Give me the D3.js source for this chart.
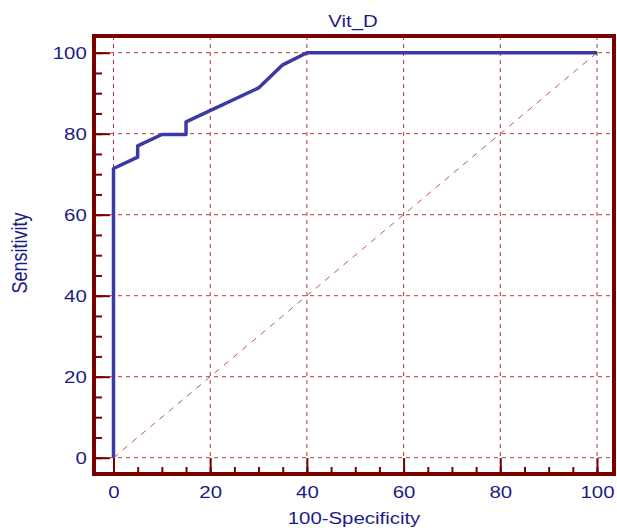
<!DOCTYPE html>
<html>
<head>
<meta charset="utf-8">
<script src="https://cdn.jsdelivr.net/npm/d3@7"></script>
<style>
  body { margin: 0; background: #fff; }
  text { font-family: Arial, "Liberation Sans", sans-serif; }
</style>
</head>
<body>
<div id="chart"></div>
<script>
// ROC curve points (100-Specificity, Sensitivity)
var fpr = [0, 0, 5, 5, 10, 15, 15, 30, 35, 40, 100];
var sens = [0, 71.4, 74.2, 77.0, 79.8, 79.8, 82.9, 91.3, 97.0, 100, 100];

var majorTicks = [0, 20, 40, 60, 80, 100];
var minorTicks = d3.range(0, 101, 5);

var title = 'Vit_D';
var xTitle = '100-Specificity';
var yTitle = 'Sensitivity';

var W = 617, H = 528;
var frame = { left: 94, right: 614, top: 36, bottom: 474 };
var stretch = 1.2; // the original text looks widened horizontally

var navy = '#1c1c88', maroon = '#7a0000', gridCol = '#b03a3a', lineCol = '#3a3aa2';

var svg = d3.select('#chart')
  .append('svg')
  .attr('width', W)
  .attr('height', H);

var x = d3.scaleLinear().domain([0, 100]).range([113.5, 597]);
var y = d3.scaleLinear().domain([0, 100]).range([457.7, 52.7]);

// grid lines
svg.append('g')
  .selectAll('line')
  .data(majorTicks)
  .enter()
  .append('line')
  .attr('x1', function(d) { return x(d); })
  .attr('x2', function(d) { return x(d); })
  .attr('y1', frame.top)
  .attr('y2', frame.bottom)
  .attr('stroke', gridCol)
  .attr('stroke-width', 1)
  .attr('stroke-dasharray', '4,4');

svg.append('g')
  .selectAll('line')
  .data(majorTicks)
  .enter()
  .append('line')
  .attr('y1', function(d) { return y(d); })
  .attr('y2', function(d) { return y(d); })
  .attr('x1', frame.left)
  .attr('x2', frame.right)
  .attr('stroke', gridCol)
  .attr('stroke-width', 1)
  .attr('stroke-dasharray', '4,4');

// diagonal reference
svg.append('line')
  .attr('x1', x(0)).attr('y1', y(0))
  .attr('x2', x(100)).attr('y2', y(100))
  .attr('stroke', '#c05858')
  .attr('stroke-width', 1)
  .attr('stroke-dasharray', '6,6');

// axes: minor ticks, then major ticks with labels (ticks point inward)
function styleAxis(g) {
  g.select('.domain').remove();
  g.selectAll('.tick line').attr('stroke', maroon).attr('stroke-width', 2);
  g.selectAll('.tick text')
    .attr('fill', navy)
    .attr('transform', 'scale(' + stretch + ',1)')
    .style('font-size', '17px');
}

svg.append('g')
  .attr('transform', 'translate(0,' + frame.bottom + ')')
  .call(d3.axisBottom(x).tickValues(minorTicks).tickSize(-7).tickFormat(''))
  .call(styleAxis);

svg.append('g')
  .attr('transform', 'translate(0,' + frame.bottom + ')')
  .call(d3.axisBottom(x).tickValues(majorTicks).tickSize(-16).tickPadding(12))
  .call(styleAxis);

svg.append('g')
  .attr('transform', 'translate(' + frame.left + ',0)')
  .call(d3.axisLeft(y).tickValues(minorTicks).tickSize(-8).tickFormat(''))
  .call(styleAxis);

svg.append('g')
  .attr('transform', 'translate(' + frame.left + ',0)')
  .call(d3.axisLeft(y).tickValues(majorTicks).tickSize(-16).tickPadding(6))
  .call(styleAxis);

// the ROC curve
var pts = fpr.map(function(d, i) { return [d, sens[i]]; });
svg.append('path')
  .datum(pts)
  .attr('fill', 'none')
  .attr('stroke', lineCol)
  .attr('stroke-width', 3.5)
  .attr('stroke-linejoin', 'round')
  .attr('d', d3.line()
    .x(function(d) { return x(d[0]); })
    .y(function(d) { return y(d[1]); }));

// frame
svg.append('rect')
  .attr('x', frame.left)
  .attr('y', frame.top)
  .attr('width', frame.right - frame.left)
  .attr('height', frame.bottom - frame.top)
  .attr('fill', 'none')
  .attr('stroke', maroon)
  .attr('stroke-width', 4);

// titles
svg.append('text')
  .attr('transform', 'translate(353,27) scale(' + stretch + ',1)')
  .attr('text-anchor', 'middle')
  .attr('fill', navy)
  .style('font-size', '17px')
  .text(title);

svg.append('text')
  .attr('transform', 'translate(354,524) scale(' + stretch + ',1)')
  .attr('text-anchor', 'middle')
  .attr('fill', navy)
  .style('font-size', '17px')
  .text(xTitle);

svg.append('text')
  .attr('transform', 'translate(27,253) scale(' + stretch + ',1) rotate(-90)')
  .attr('text-anchor', 'middle')
  .attr('fill', navy)
  .style('font-size', '18px')
  .text(yTitle);
</script>
</body>
</html>
